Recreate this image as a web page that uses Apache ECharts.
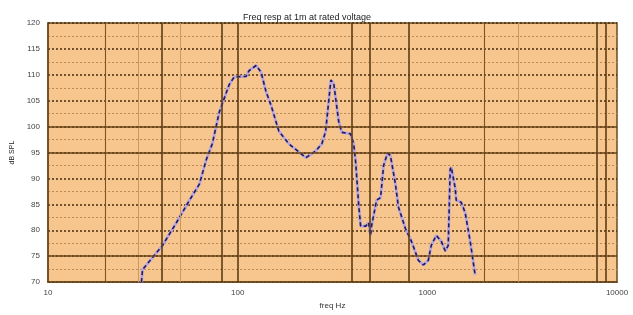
<!DOCTYPE html>
<html>
<head>
<meta charset="utf-8">
<script src="https://cdn.jsdelivr.net/npm/echarts@6/dist/echarts.min.js"></script>
<style>html,body{margin:0;padding:0;background:#fff}#c{width:633px;height:315px}</style>
</head>
<body>
<div id="c"></div>
<script>
const titleText = 'Freq resp at 1m at rated voltage';
const xAxisName = 'freq Hz';
const yAxisName = 'dB SPL';
const freqHz = [31.1, 31.5, 40.2, 47.6, 55.7, 62.8, 68.3, 73.5, 80, 90.2, 95.9, 110.8, 114.9, 125.1, 132.9, 141, 150, 165, 186, 229, 258, 278, 291, 310, 321, 341, 354, 394, 409, 419, 434, 445, 473, 490, 502, 508, 540, 567, 588, 617, 639, 679, 704, 767, 824, 897, 953, 1012, 1049, 1115, 1184, 1243, 1289, 1320, 1337, 1403, 1420, 1508, 1583, 1682, 1786];
const splDb = [70, 72.4, 77.1, 81.5, 85.8, 88.9, 93.6, 96.7, 102.8, 108.1, 109.6, 109.7, 110.8, 111.8, 110.5, 106.8, 104.1, 99.1, 96.7, 94.0, 95.3, 96.7, 99.1, 109.0, 108.3, 101.0, 98.9, 98.6, 96.7, 93.1, 85.2, 80.8, 80.8, 81.5, 79.0, 80.8, 85.8, 86.3, 92.5, 94.9, 94.4, 88.9, 84.5, 80.3, 77.9, 74.2, 73.3, 74.2, 77.1, 79.0, 77.9, 76.0, 77.1, 91.8, 92.2, 88.1, 85.8, 85.4, 83.4, 77.9, 71.4];
// graph-paper vertical rulings (frequency) and their weight
const vHeavy = [40, 82, 100, 400, 500, 800, 7800, 8700];
const vMedium = [20, 2000];
const vFaint = [30, 50, 3000];
// solid horizontal rulings (dB)
const hSolid = [100, 95, 75];

const pts = freqHz.map((f, i) => [f, splDb[i]]);
const brown = '#5e3d14';
const vLines = []
  .concat(vHeavy.map(v => ({xAxis: v, lineStyle: {color: brown, width: 1.6, type: 'solid'}})))
  .concat(vMedium.map(v => ({xAxis: v, lineStyle: {color: '#7a5526', width: 1.1, type: 'solid'}})))
  .concat(vFaint.map(v => ({xAxis: v, lineStyle: {color: '#c9995e', width: 1, type: 'solid'}})));
const hLines = hSolid.map(v => ({yAxis: v, lineStyle: {color: '#6b4518', width: 1.6, type: 'solid'}}));

const chart = echarts.init(document.getElementById('c'), null, {renderer: 'canvas'});
chart.setOption({
  animation: false,
  title: {text: titleText, left: 238, top: 8, textStyle: {fontSize: 9, fontWeight: 'normal', color: '#222', fontFamily: 'Liberation Sans'}},
  grid: {left: 48, right: 16, top: 23, bottom: 19, show: true, backgroundColor: '#f6c68e', borderColor: '#6b4a1e', borderWidth: 1.5},
  xAxis: {
    type: 'log', logBase: 10, min: 10, max: 10000,
    name: xAxisName, nameLocation: 'middle', nameGap: 10,
    nameTextStyle: {fontSize: 8, color: '#333', fontFamily: 'Liberation Sans'},
    axisLine: {show: true, lineStyle: {color: '#6b4a1e', width: 1.5}},
    axisTick: {show: false},
    axisLabel: {fontSize: 8, color: '#444', margin: 7, fontFamily: 'Liberation Sans', formatter: v => String(Math.round(v))},
    splitLine: {show: false}
  },
  yAxis: {
    type: 'value', min: 70, max: 120, interval: 5,
    name: yAxisName, nameLocation: 'middle', nameGap: 30, nameRotate: 90,
    nameTextStyle: {fontSize: 7, color: '#222', fontFamily: 'Liberation Sans'},
    axisLine: {show: true, lineStyle: {color: '#6b4a1e', width: 1.5}},
    axisTick: {show: false},
    axisLabel: {fontSize: 8, color: '#444', margin: 8, fontFamily: 'Liberation Sans'},
    splitLine: {show: true, lineStyle: {color: '#4a2e0c', width: 1.5, type: [2, 2]}},
    minorTick: {show: false, splitNumber: 2},
    minorSplitLine: {show: true, lineStyle: {color: '#b98a52', width: 1, type: [2, 2]}}
  },
  series: [
    {
      type: 'line', data: pts, symbol: 'none', silent: true, z: 1,
      lineStyle: {color: 'rgba(0,0,0,0)', width: 0},
      markLine: {silent: true, symbol: 'none', label: {show: false}, data: vLines.concat(hLines)}
    },
    {type: 'line', data: pts, symbol: 'none', z: 3, lineStyle: {color: '#b7a4df', width: 2.8, type: 'solid'}},
    {type: 'line', data: pts, symbol: 'none', z: 4, lineStyle: {color: '#1f1b5e', width: 1.6, type: [4, 3]}}
  ]
});
</script>
</body>
</html>
